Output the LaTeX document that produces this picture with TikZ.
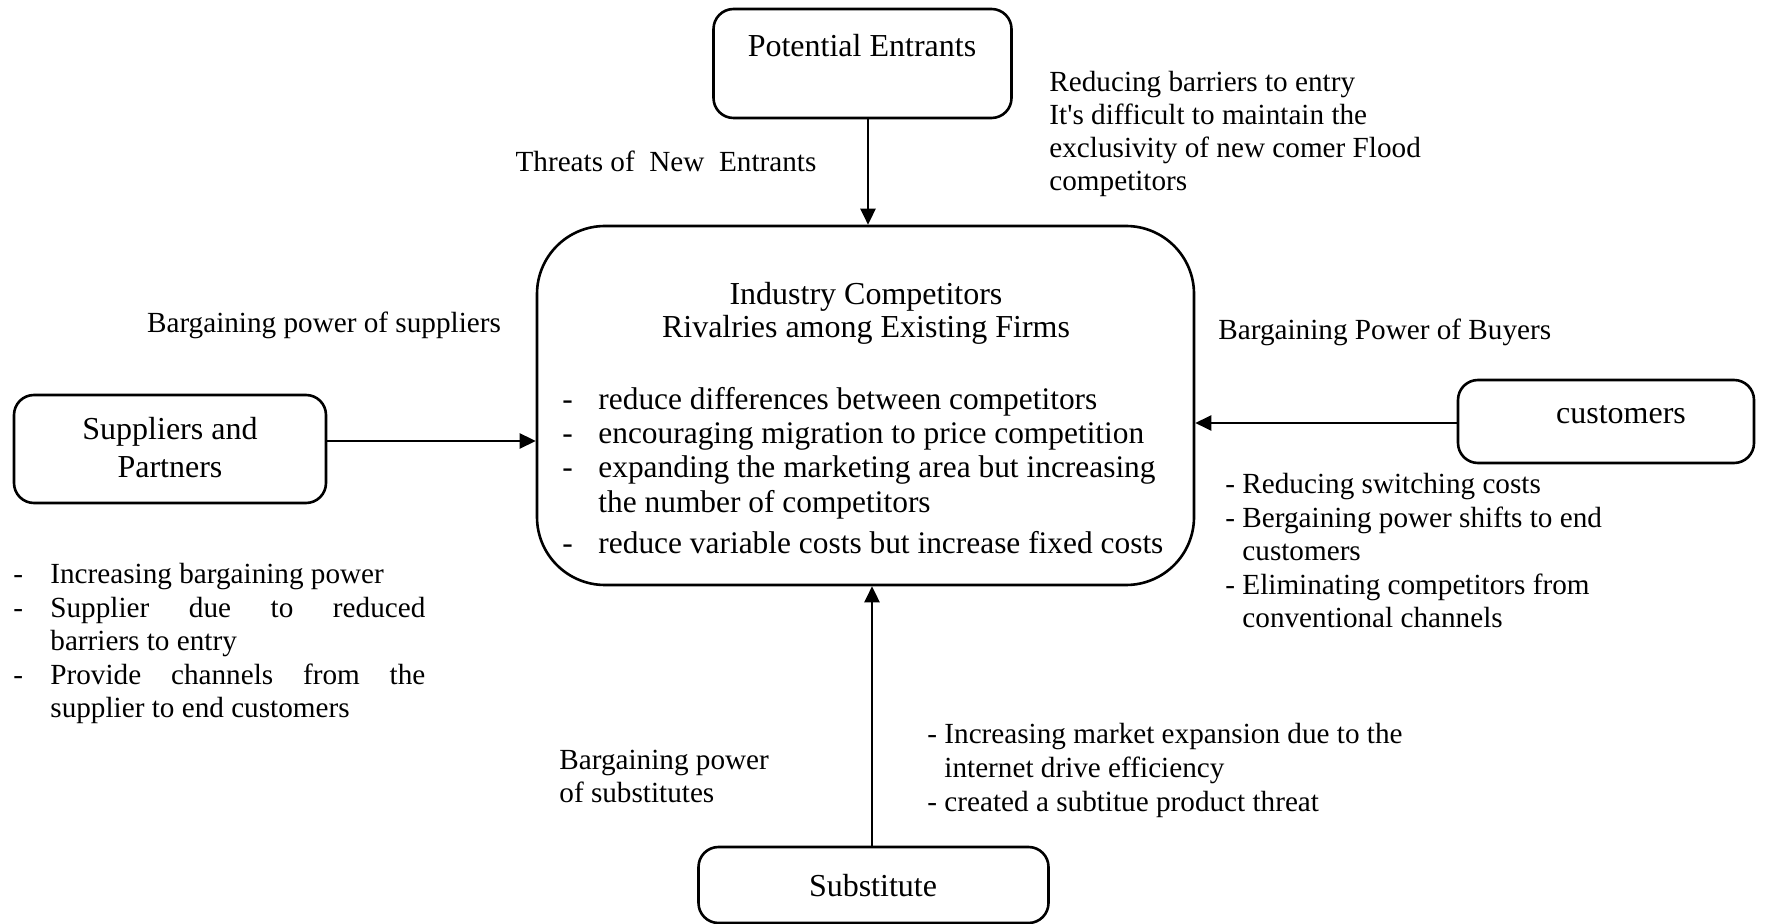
\documentclass[tikz,border=0pt]{standalone}
\usepackage{fontspec}
\setmainfont{Liberation Serif}
\usetikzlibrary{arrows.meta}
\newcommand\txtside{\fontsize{14.6}{16.7}\selectfont}
\newcommand\txtmain{\fontsize{15.7}{17.25}\selectfont}
\newcommand\txttitle{\fontsize{16}{16}\selectfont}
\newcommand\txtbox{\fontsize{16}{19}\selectfont}
\begin{document}
\begin{tikzpicture}[x=0.5pt,y=-0.5pt,
  box/.style={draw, line width=1.3pt, rounded corners=10pt, inner sep=0},
  arr/.style={-{Triangle[length=8pt,width=7.5pt]}, line width=1.3pt},
  lbl/.style={inner sep=0, anchor=base, font=\txtbox, align=center},
  side/.style={inner sep=0, anchor=base west, font=\txtside},
  sidec/.style={inner sep=0, anchor=base, font=\txtside},
  mtxt/.style={inner sep=0, anchor=base west, font=\txtmain}]
\useasboundingbox (0,0) rectangle (1788,924);
% boxes
\node[box, minimum width=149pt, minimum height=54.5pt] (pe) at (862.5,63.5) {};
\node[box, rounded corners=34pt, minimum width=328.5pt, minimum height=179.5pt] (main) at (865.5,405.5) {};
\node[box, minimum width=156pt, minimum height=54pt] (sup) at (170,449) {};
\node[box, minimum width=148pt, minimum height=41.5pt] (cus) at (1606,421.5) {};
\node[box, minimum width=175pt, minimum height=38pt] (sub) at (873.5,885) {};
% box labels
\node[lbl] (peL) at (862,57) {Potential Entrants};
\node[lbl, anchor=base] (supL) at (170,440) {\parbox[t]{150pt}{\centering\txtbox Suppliers and\\Partners}};
\node[lbl] (cusL) at (1621,424) {customers};
\node[lbl] (subL) at (873,896) {Substitute};
% main text
\node[inner sep=0, anchor=base] (mT) at (866,305) {\parbox[t]{300pt}{\centering\txttitle\baselineskip=16.5pt Industry Competitors\\Rivalries among Existing Firms}};
\node[mtxt] (mD1) at (562,410) {-};
\node[mtxt] (mD2) at (562,444) {-};
\node[mtxt] (mD3) at (562,478) {-};
\node[mtxt] (mD5) at (562,554) {-};
\node[mtxt] (mB1) at (598,410) {reduce differences between competitors};
\node[mtxt] (mB2) at (598,444) {encouraging migration to price competition};
\node[mtxt] (mB3) at (598,478) {expanding the marketing area but increasing};
\node[mtxt] (mB4) at (598,513) {the number of competitors};
\node[mtxt] (mB5) at (598,554) {reduce variable costs but increase fixed costs};
% side labels
\node[sidec] (tNE) at (666,172) {Threats of\ \ New\ \ Entrants};
\node[side] (tPE) at (1049,92) {\parbox[t]{250pt}{\raggedright\txtside\baselineskip=16.5pt Reducing barriers to entry\\It\textquotesingle s difficult to maintain the\\exclusivity of new comer Flood\\competitors}};
\node[sidec] (tBS) at (324,333) {Bargaining power of suppliers};
\node[side] (tBB) at (1218,340) {Bargaining Power of Buyers};
\node[side] (tSD) at (13,584) {\parbox[t]{20pt}{\txtside -\\-\\\mbox{}\\-}};
\node[side] (tSB) at (50,584) {\parbox[t]{187.5pt}{\txtside Increasing bargaining power\par Supplier due to reduced\linebreak barriers to entry\par Provide channels from the\linebreak supplier to end customers}};
\node[side] (tCB) at (1225,494) {\parbox[t]{250pt}{\raggedright\txtside\baselineskip=16.7pt - Reducing switching costs\\- Bergaining power shifts to end\\\hphantom{- }customers\\- Eliminating competitors from\\\hphantom{- }conventional channels}};
\node[side] (tBSub) at (559,769) {\parbox[t]{150pt}{\raggedright\txtside\baselineskip=16.5pt Bargaining power\\of substitutes}};
\node[side] (tSubB) at (927,743) {\parbox[t]{250pt}{\raggedright\txtside\baselineskip=17pt - Increasing market expansion due to the\\\hphantom{- }internet drive efficiency\\- created a subtitue product threat}};
% connectors
\coordinate (ax1) at (868,0);
\coordinate (ax2) at (872,0);
\coordinate (ay1) at (0,441);
\coordinate (ay2) at (0,423);
\draw[arr] (pe.south -| ax1) -- (main.north -| ax1);
\draw[arr] (sub.north -| ax2) -- (main.south -| ax2);
\draw[arr] (sup.east |- ay1) -- (main.west |- ay1);
\draw[arr] (cus.west |- ay2) -- (main.east |- ay2);
\end{tikzpicture}
\end{document}
